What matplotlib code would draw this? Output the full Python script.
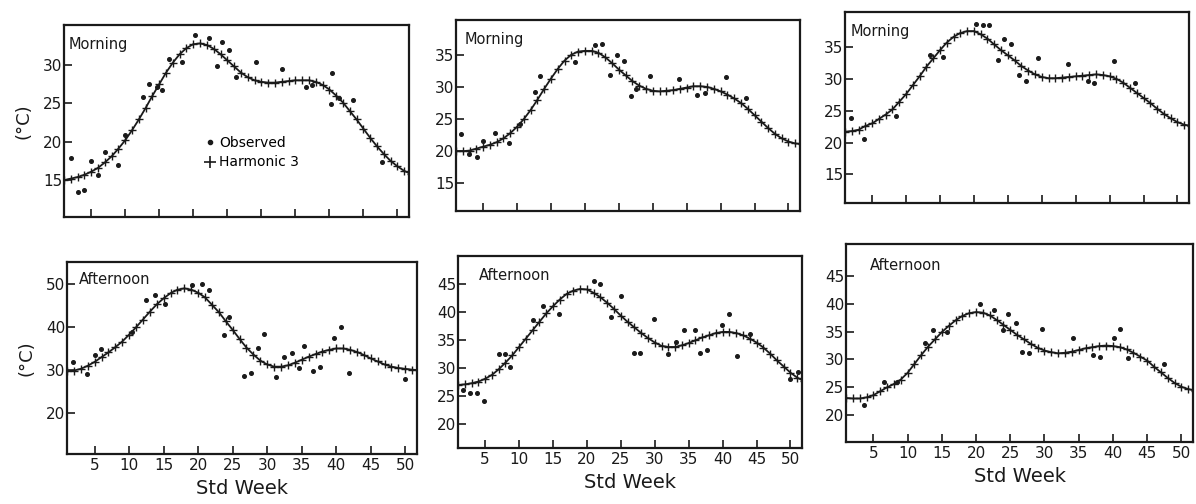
import matplotlib
matplotlib.use("Agg")
import matplotlib.pyplot as plt
from matplotlib.lines import Line2D

plt.rcParams['font.family'] = ['DejaVu Sans']

weeks = list(range(1, 53))

# harmonic-3 fits (one value per std week)
m1_fit = [15.0, 15.2, 15.4, 15.7, 16.1, 16.6, 17.3, 18.1, 19.1, 20.2, 21.5, 22.9, 24.4,
          26.0, 27.5, 29.0, 30.3, 31.4, 32.2, 32.7, 32.8, 32.6, 32.1, 31.4, 30.6, 29.8,
          29.0, 28.4, 28.0, 27.8, 27.7, 27.7, 27.8, 27.9, 28.0, 28.0, 28.0, 27.8, 27.4,
          26.8, 26.0, 25.1, 24.0, 22.9, 21.7, 20.5, 19.4, 18.4, 17.5, 16.8, 16.2, 15.8]
m2_fit = [20.0, 20.0, 20.1, 20.4, 20.7, 21.0, 21.4, 22.0, 22.8, 23.8, 25.0, 26.4, 28.0,
          29.7, 31.3, 32.8, 34.1, 35.0, 35.5, 35.6, 35.6, 35.3, 34.6, 33.7, 32.7, 31.8,
          30.9, 30.2, 29.7, 29.4, 29.3, 29.4, 29.5, 29.7, 29.9, 30.1, 30.1, 30.0, 29.7,
          29.3, 28.8, 28.2, 27.5, 26.6, 25.6, 24.6, 23.6, 22.7, 22.0, 21.5, 21.2, 21.1]
m3_fit = [21.7, 21.8, 22.0, 22.6, 23.0, 23.7, 24.4, 25.2, 26.4, 27.6, 29.0, 30.4, 31.9,
          33.2, 34.5, 35.7, 36.6, 37.2, 37.5, 37.5, 37.0, 36.3, 35.4, 34.5, 33.7, 32.9,
          32.0, 31.3, 30.7, 30.3, 30.1, 30.1, 30.2, 30.3, 30.4, 30.5, 30.6, 30.7, 30.6,
          30.4, 30.0, 29.4, 28.6, 27.8, 27.0, 26.2, 25.3, 24.5, 23.8, 23.2, 22.8, 22.6]
a1_fit = [29.7, 29.9, 30.3, 31.0, 31.9, 33.0, 34.1, 35.3, 36.6, 38.2, 39.9, 41.7, 43.5,
          45.2, 46.6, 47.8, 48.6, 48.9, 48.6, 47.9, 46.8, 45.1, 43.4, 41.3, 39.3, 37.2,
          35.2, 33.6, 32.2, 31.3, 30.8, 30.8, 31.1, 31.7, 32.4, 33.1, 33.7, 34.3, 34.7,
          35.0, 35.0, 34.7, 34.2, 33.5, 32.7, 32.0, 31.3, 30.8, 30.5, 30.3, 30.1, 30.0]
a2_fit = [27.0, 27.1, 27.3, 27.6, 28.1, 28.8, 29.8, 31.0, 32.3, 33.8, 35.3, 36.8, 38.3,
          39.8, 41.1, 42.3, 43.3, 43.9, 44.2, 44.1, 43.5, 42.7, 41.7, 40.6, 39.4, 38.3,
          37.3, 36.3, 35.4, 34.6, 34.0, 33.8, 33.8, 34.1, 34.5, 35.0, 35.5, 35.9, 36.3,
          36.5, 36.5, 36.3, 35.9, 35.3, 34.6, 33.7, 32.6, 31.4, 30.3, 29.2, 28.3, 27.7]
a3_fit = [23.1, 23.0, 23.0, 23.2, 23.6, 24.3, 25.0, 25.6, 26.4, 27.6, 29.2, 30.8, 32.3,
          33.6, 34.9, 36.0, 37.0, 37.8, 38.3, 38.5, 38.4, 37.9, 37.1, 36.2, 35.3, 34.4,
          33.6, 32.8, 32.1, 31.6, 31.3, 31.1, 31.2, 31.4, 31.7, 32.0, 32.2, 32.4, 32.5,
          32.4, 32.2, 31.8, 31.2, 30.5, 29.8, 28.7, 27.7, 26.7, 25.8, 25.1, 24.7, 24.4]

# observed points that stand off the fitted curve
m1_obs_wk = [2, 3, 4, 5, 6, 7, 9, 10, 12.6, 13.5, 14.7, 15.4, 16.4, 18.3, 20.2, 22.3,
             23.5, 24.2, 25.3, 26.3, 29.2, 33.1, 36.5, 37.4, 40.2, 40.4, 41.4, 43.4, 47.8]
m1_obs_t = [17.9, 13.5, 13.7, 17.5, 15.7, 18.7, 17.0, 20.9, 25.8, 27.5, 27.1, 26.8, 30.8,
            30.4, 33.9, 33.5, 29.9, 33.0, 31.9, 28.4, 30.4, 29.5, 27.1, 27.4, 24.9, 29.0,
            25.7, 25.4, 17.3]
m2_obs_wk = [1.7, 2.9, 4.1, 5, 6.8, 8.8, 10.5, 12.7, 13.4, 18.6, 21.5, 22.5, 23.7, 24.7,
             25.8, 26.8, 27.6, 29.6, 33.9, 36.5, 37.7, 40.8, 43.8]
m2_obs_t = [22.6, 19.6, 19.1, 21.6, 22.8, 21.3, 24.2, 29.2, 31.7, 33.9, 36.5, 36.7, 31.8,
            35.0, 34.1, 28.6, 29.7, 31.7, 31.3, 28.8, 29.0, 31.6, 28.2]
m3_obs_wk = [1.9, 3.8, 8.5, 13.5, 15.4, 20.3, 21.3, 22.2, 23.6, 24.4, 25.4, 26.6, 27.7,
             29.4, 33.9, 36.8, 37.7, 40.6, 43.7]
m3_obs_t = [23.8, 20.6, 24.1, 33.7, 33.5, 38.6, 38.4, 38.4, 32.9, 36.2, 35.4, 30.6, 29.6,
            33.3, 32.4, 29.6, 29.3, 32.8, 29.3]
a1_obs_wk = [1.9, 3.9, 5, 5.9, 10.4, 12.5, 13.7, 15.2, 19.1, 20.5, 21.6, 23.8, 24.5, 26.6,
             27.6, 28.6, 29.6, 31.3, 32.5, 33.6, 34.6, 35.4, 36.7, 37.6, 39.7, 40.7, 41.8, 49.9]
a1_obs_t = [31.9, 29.0, 33.5, 34.8, 38.7, 46.1, 47.3, 45.3, 49.6, 49.8, 48.6, 38.1, 42.2,
            28.7, 29.3, 35.2, 38.3, 28.3, 33.0, 34.0, 30.5, 35.6, 29.9, 30.7, 37.5, 39.9,
            29.3, 28.0]
a2_obs_wk = [1.8, 2.8, 3.8, 4.9, 7, 8, 8.7, 12, 13.6, 15.9, 21, 22, 23.6, 25, 27, 27.8,
             29.9, 31.9, 33.1, 34.3, 36, 36.7, 37.7, 39.9, 41, 42.1, 44.1, 50, 51.1]
a2_obs_t = [26.1, 25.6, 25.6, 24.2, 32.6, 32.6, 30.3, 38.6, 41.2, 39.7, 45.6, 45.0, 39.1,
            42.9, 32.7, 32.7, 38.8, 32.5, 34.7, 36.8, 36.8, 32.7, 33.2, 37.7, 39.7, 32.2,
            36.2, 28.1, 29.3]
a3_obs_wk = [3.6, 6.5, 8.4, 12.5, 13.7, 15.7, 20.6, 22.6, 23.9, 24.7, 25.8, 26.7, 27.7,
             29.7, 34.1, 37.1, 38.1, 40.1, 41.1, 42.2, 47.4]
a3_obs_t = [21.9, 25.9, 25.9, 33.0, 35.3, 35.0, 39.9, 38.9, 35.3, 38.2, 36.6, 31.4, 31.1,
            35.4, 33.9, 30.8, 30.5, 33.9, 35.4, 30.3, 29.1]

x_ticks = [5, 10, 15, 20, 25, 30, 35, 40, 45, 50]

panels = [
    # fit, obs weeks, obs temps, box in pixels (x0, y0, x1, y1), ylim, yticks, title, title pos
    (m1_fit, m1_obs_wk, m1_obs_t, (64, 25, 409, 217), (10.2, 35.2), [15, 20, 25, 30], "Morning", (0.012, 0.90)),
    (m2_fit, m2_obs_wk, m2_obs_t, (456, 20, 800, 211), (10.7, 40.4), [15, 20, 25, 30, 35], "Morning", (0.025, 0.90)),
    (m3_fit, m3_obs_wk, m3_obs_t, (845, 12, 1189, 203), (10.5, 40.5), [15, 20, 25, 30, 35], "Morning", (0.015, 0.90)),
    (a1_fit, a1_obs_wk, a1_obs_t, (67, 262, 417, 454), (10.6, 55.0), [20, 30, 40, 50], "Afternoon", (0.035, 0.91)),
    (a2_fit, a2_obs_wk, a2_obs_t, (458, 256, 802, 448), (15.7, 50.1), [20, 25, 30, 35, 40, 45], "Afternoon", (0.062, 0.90)),
    (a3_fit, a3_obs_wk, a3_obs_t, (846, 244, 1193, 442), (15.2, 50.7), [20, 25, 30, 35, 40, 45], "Afternoon", (0.068, 0.89)),
]

W, H = 1196, 504
fig = plt.figure(figsize=(W / 100, H / 100), dpi=100)
ink = "#1a1a1a"

for i, (fit, ow, ot, box, ylim, yt, title, tpos) in enumerate(panels):
    x0, y0, x1, y1 = box
    ax = fig.add_axes([x0 / W, 1 - y1 / H, (x1 - x0) / W, (y1 - y0) / H])
    ax.plot(weeks, fit, color=ink, lw=1.3, marker="+", ms=6, mew=1.0)
    ax.plot(ow, ot, ls="none", marker="o", ms=2.6, color=ink)
    ax.set_xlim(1, 51.7)
    ax.set_ylim(*ylim)
    ax.set_yticks(yt)
    ax.set_xticks(x_ticks)
    ax.tick_params(direction="in", length=6, width=1.2, colors=ink, labelsize=11, pad=3)
    ax.tick_params(axis="y", pad=1)
    if i < 3:
        ax.set_xticklabels([])
    else:
        ax.set_xlabel("Std Week", fontsize=14, color=ink, labelpad=4)
    for s in ax.spines.values():
        s.set_linewidth(1.6)
        s.set_color(ink)
    ax.text(tpos[0], tpos[1], title, transform=ax.transAxes, fontsize=10.5,
            color=ink, va="center", ha="left")
    if i in (0, 3):
        ax.set_ylabel("(°C)", fontsize=13, color=ink, labelpad=8)
    if i == 0:
        handles = [Line2D([], [], ls="none", marker="o", ms=3, color=ink),
                   Line2D([], [], ls="none", marker="+", ms=8, mew=1.2, color=ink)]
        ax.legend(handles, ["Observed", "Harmonic 3"], loc="center left",
                  bbox_to_anchor=(0.37, 0.335), frameon=False, fontsize=10,
                  handlelength=0.8, handletextpad=0.3, labelspacing=0.4)

fig.savefig("out.png", dpi=100)
